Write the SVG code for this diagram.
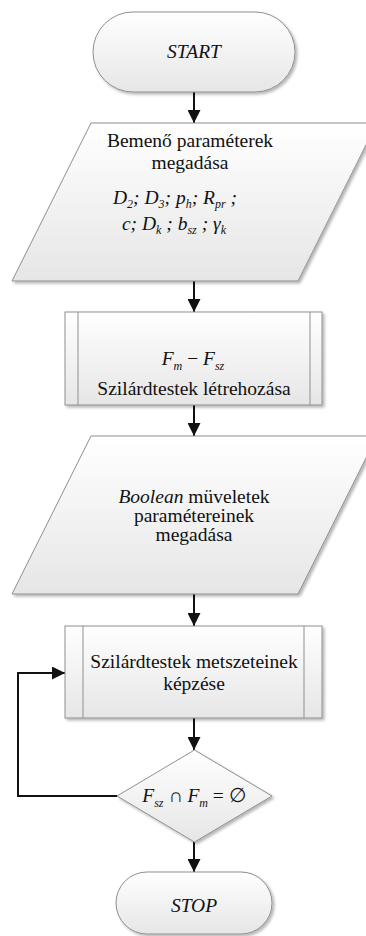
<svg xmlns="http://www.w3.org/2000/svg" width="366" height="936" viewBox="0 0 366 936">
<style>
.shape{fill:url(#g);stroke:#8f8f8f;stroke-width:1;filter:url(#sh)}
.conn{fill:none;stroke:#111;stroke-width:2;marker-end:url(#ah)}
.div{stroke:#8f8f8f;stroke-width:1}
</style>
<defs>
<linearGradient id="g" x1="0" y1="0" x2="0" y2="1">
<stop offset="0" stop-color="#ffffff"/>
<stop offset="1" stop-color="#e6e6e6"/>
</linearGradient>
<filter id="sh" x="-10%" y="-10%" width="130%" height="130%">
<feGaussianBlur in="SourceAlpha" stdDeviation="1.5"/>
<feOffset dx="2" dy="2" result="b"/>
<feComponentTransfer><feFuncA type="linear" slope="0.3"/></feComponentTransfer>
<feMerge><feMergeNode/><feMergeNode in="SourceGraphic"/></feMerge>
</filter>
<marker id="ah" viewBox="0 0 13 13" refX="13" refY="6.5" markerWidth="13" markerHeight="13" markerUnits="userSpaceOnUse" orient="auto">
<path d="M0,0 L13,6.5 L0,13 z" fill="#111"/>
</marker>
</defs>

<g id="connectors">
<path class="conn" d="M194,92 L194,123"/>
<path class="conn" d="M194,281 L194,312"/>
<path class="conn" d="M194,405 L194,436"/>
<path class="conn" d="M194,594 L194,626"/>
<path class="conn" d="M194,718 L194,750"/>
<path class="conn" d="M194,842 L194,872"/>
<path class="conn" d="M117,796 L18,796 L18,673 L65,673"/>
</g>

<g id="start">
<rect class="shape" x="93" y="12" width="202" height="80" rx="40" ry="40"/>
<text font-family="Liberation Serif, serif" font-size="19.5" fill="#111" text-anchor="middle" font-style="italic" x="194" y="58">START</text>
</g>

<g id="input1">
<polygon class="shape" points="91,123 377,123 298,281 12,281"/>
<text font-family="Liberation Serif, serif" font-size="19.5" fill="#111" text-anchor="middle" x="190" y="147">Bemenő paraméterek</text>
<text font-family="Liberation Serif, serif" font-size="19.5" fill="#111" text-anchor="middle" x="190" y="169">megadása</text>
<text font-family="Liberation Serif, serif" font-size="19.5" fill="#111" text-anchor="middle" font-style="italic" x="175" y="204">D<tspan font-size="12" dy="4">2</tspan><tspan dy="-4">; D</tspan><tspan font-size="12" dy="4">3</tspan><tspan dy="-4">; p</tspan><tspan font-size="12" dy="4">h</tspan><tspan dy="-4">; R</tspan><tspan font-size="12" dy="4">pr</tspan><tspan dy="-4"> ;</tspan></text>
<text font-family="Liberation Serif, serif" font-size="19.5" fill="#111" text-anchor="middle" font-style="italic" x="174" y="230">c; D<tspan font-size="12" dy="4">k</tspan><tspan dy="-4"> ; b</tspan><tspan font-size="12" dy="4">sz</tspan><tspan dy="-4"> ; γ</tspan><tspan font-size="12" dy="4">k</tspan></text>
</g>

<g id="process1">
<rect class="shape" x="65" y="312" width="257" height="93"/>
<line class="div" x1="78" y1="312" x2="78" y2="405"/>
<line class="div" x1="310" y1="312" x2="310" y2="405"/>
<text font-family="Liberation Serif, serif" font-size="19.5" fill="#111" text-anchor="middle" font-style="italic" x="193" y="365">F<tspan font-size="12" dy="5">m</tspan><tspan dy="-5" font-style="normal"> − </tspan>F<tspan font-size="12" dy="5">sz</tspan></text>
<text font-family="Liberation Serif, serif" font-size="19.5" fill="#111" text-anchor="middle" x="194" y="395">Szilárdtestek létrehozása</text>
</g>

<g id="input2">
<polygon class="shape" points="91,436 377,436 298,594 12,594"/>
<text font-family="Liberation Serif, serif" font-size="19.5" fill="#111" text-anchor="middle" x="194" y="503"><tspan font-style="italic">Boolean</tspan> müveletek</text>
<text font-family="Liberation Serif, serif" font-size="19.5" fill="#111" text-anchor="middle" x="194" y="522">paramétereinek</text>
<text font-family="Liberation Serif, serif" font-size="19.5" fill="#111" text-anchor="middle" x="194" y="541">megadása</text>
</g>

<g id="process2">
<rect class="shape" x="65" y="626" width="257" height="92"/>
<line class="div" x1="83" y1="626" x2="83" y2="718"/>
<line class="div" x1="304" y1="626" x2="304" y2="718"/>
<text font-family="Liberation Serif, serif" font-size="19.5" fill="#111" text-anchor="middle" x="194" y="668">Szilárdtestek metszeteinek</text>
<text font-family="Liberation Serif, serif" font-size="19.5" fill="#111" text-anchor="middle" x="194" y="690">képzése</text>
</g>

<g id="decision">
<polygon class="shape" points="194.5,750 272,796 194.5,842 117,796"/>
<text font-family="Liberation Serif, serif" font-size="19.5" fill="#111" text-anchor="middle" font-style="italic" x="194" y="802">F<tspan font-size="12" dy="5">sz</tspan><tspan dy="-5" font-style="normal"> ∩ </tspan>F<tspan font-size="12" dy="5">m</tspan><tspan dy="-5" font-style="normal"> = ∅</tspan></text>
</g>

<g id="stop">
<rect class="shape" x="116" y="872" width="156" height="62" rx="31" ry="31"/>
<text font-family="Liberation Serif, serif" font-size="19.5" fill="#111" text-anchor="middle" font-style="italic" x="194" y="912">STOP</text>
</g>
</svg>
